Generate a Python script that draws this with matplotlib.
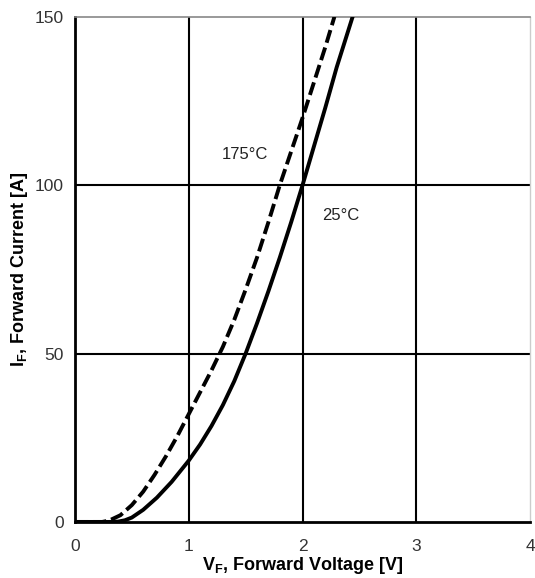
import matplotlib
matplotlib.use("Agg")
import matplotlib.pyplot as plt

plt.rcParams['font.family'] = ['Liberation Sans', 'DejaVu Sans']
plt.rcParams['mathtext.fontset'] = 'custom'
plt.rcParams['mathtext.rm'] = 'Liberation Sans:bold'
plt.rcParams['mathtext.bf'] = 'Liberation Sans:bold'

# 25 C curve (solid)
v_25 = [0.0, 0.30, 0.38, 0.44, 0.50, 0.60, 0.72, 0.85, 1.00, 1.10, 1.20, 1.30,
        1.40, 1.50, 1.60, 1.70, 1.80, 1.90, 2.00, 2.10, 2.20, 2.30, 2.44]
i_25 = [0.0, 0.0, 0.1, 0.5, 1.3, 3.6, 7.2, 11.9, 18.2, 23.0, 28.5, 34.7,
        41.8, 50.0, 59.0, 68.5, 78.5, 89.0, 100.0, 111.5, 123.0, 135.0, 150.0]

# 175 C curve (dashed)
v_175 = [0.0, 0.24, 0.30, 0.40, 0.50, 0.60, 0.70, 0.80, 0.90, 1.00, 1.10, 1.20,
         1.30, 1.40, 1.50, 1.60, 1.70, 1.80, 1.90, 2.00, 2.10, 2.20, 2.28]
i_175 = [0.0, 0.0, 0.4, 2.0, 5.0, 9.0, 14.0, 19.5, 25.5, 32.0, 38.5, 45.0,
         52.0, 60.0, 69.0, 78.5, 89.0, 100.0, 110.0, 120.0, 130.5, 141.0, 150.0]

x_ticks = [0, 1, 2, 3, 4]
y_ticks = [0, 50, 100, 150]

fig = plt.figure(figsize=(5.35, 5.78), dpi=100)
ax = fig.add_axes([0.140, 0.097, 0.851, 0.874])

for x in x_ticks[1:-1]:
    ax.axvline(x, color='black', lw=1.5, zorder=1)
for y in y_ticks[1:-1]:
    ax.axhline(y, color='black', lw=1.5, zorder=1)

ax.plot(v_25, i_25, color='black', lw=2.8, zorder=3)
ax.plot(v_175, i_175, color='black', lw=2.8, ls=(0, (3.4, 1.3)), zorder=3)

ax.text(1.29, 109, '175\u00b0C', fontsize=12, color='#222222', ha='left', va='center')
ax.text(2.17, 91, '25\u00b0C', fontsize=12, color='#222222', ha='left', va='center')

ax.set_xlim(0, 4)
ax.set_ylim(0, 150)
ax.set_xticks(x_ticks)
ax.set_yticks(y_ticks)
ax.tick_params(length=0, labelsize=12.5, colors='#333333')
ax.tick_params(axis='x', pad=12)
ax.tick_params(axis='y', pad=8)

for side in ['left', 'bottom']:
    ax.spines[side].set_linewidth(2)
    ax.spines[side].set_color('black')
ax.spines['top'].set_color('#888888')
ax.spines['top'].set_linewidth(1.2)
ax.spines['right'].set_color('#cccccc')
ax.spines['right'].set_linewidth(1)

ax.set_xlabel(r'V$_\mathregular{F}$, Forward Voltage [V]', fontsize=13,
              fontweight='bold', labelpad=1)
ax.set_ylabel(r'I$_\mathregular{F}$, Forward Current [A]', fontsize=13,
              fontweight='bold', labelpad=3)

fig.savefig('out.png', dpi=100)
